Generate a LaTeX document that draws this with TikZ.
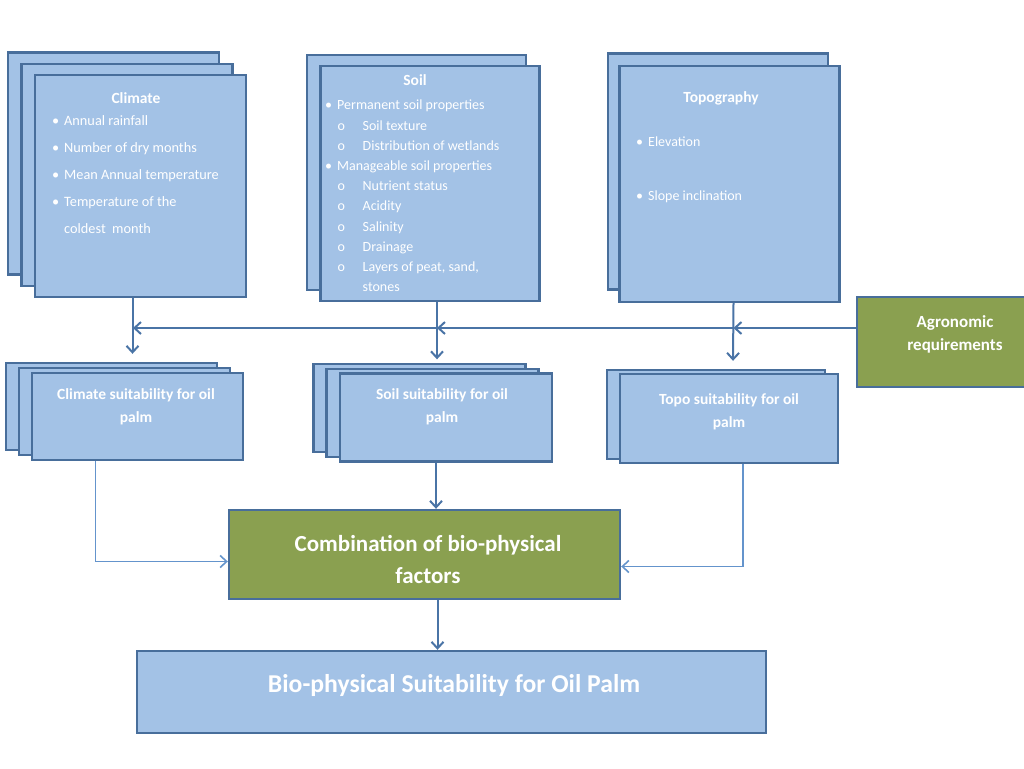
\documentclass[tikz,border=0pt]{standalone}
\usepackage{fontspec}
\setmainfont{Carlito}
\usepackage{tikz}
\usetikzlibrary{
  arrows.meta,
  positioning
}
\definecolor{boxblue}{RGB}{163,194,230}
\definecolor{edgeblue}{RGB}{72,110,155}
\definecolor{leafgreen}{RGB}{138,160,80}
\definecolor{linkblue}{RGB}{74,116,166}
\definecolor{feedblue}{RGB}{100,148,204}
\newcommand{\itm}{\makebox[12pt][l]{\textbullet}}
\newcommand{\subitm}{\hspace*{12.5pt}\makebox[25pt][l]{o}}

\begin{document}
\begin{tikzpicture}[x=1pt, y=-1pt,
  card/.style={draw=edgeblue, fill=boxblue, line width=2.4pt, inner sep=0pt},
  goal/.style={draw=edgeblue, fill=leafgreen, line width=2.4pt, inner sep=0pt},
  head/.style={text=white, font=\fontsize{15.5}{23}\selectfont\bfseries, align=center},
  list/.style={text=white, anchor=north west, inner sep=0pt, align=left},
  flow/.style={-{Straight Barb[length=6.5pt,width=12pt]}, line width=2pt, linkblue},
  feed/.style={-{Straight Barb[length=6.5pt,width=12pt]}, line width=1.6pt, feedblue}
]
\useasboundingbox (0,0) rectangle (1024,768);
\clip (0,0) rectangle (1024,768);
\fill[white] (0,0) rectangle (1024,768);

%% Top row: input factors
\node[card, minimum width=211pt, minimum height=222pt] (clim3) at (113.5,163.5) {};
\node[card, minimum width=211pt, minimum height=222pt] (clim2) at (127.0,175.0) {};
\node[card, minimum width=211pt, minimum height=222pt] (clim)  at (140.5,186.0) {};
\node[card, minimum width=219pt, minimum height=235pt] (soil2) at (416.5,172.5) {};
\node[card, minimum width=219pt, minimum height=235pt] (soil)  at (430.0,183.5) {};
\node[card, minimum width=220pt, minimum height=236pt] (topo2) at (718.0,171.5) {};
\node[card, minimum width=220pt, minimum height=236pt] (topo)  at (729.5,184.0) {};

%% Middle row: suitability maps
\node[card, minimum width=211pt, minimum height=87pt] (csuit3) at (111.5,406.5) {};
\node[card, minimum width=211pt, minimum height=87pt] (csuit2) at (124.5,411.5) {};
\node[card, minimum width=211pt, minimum height=87pt] (csuit)  at (137.5,416.5) {};
\node[card, minimum width=212pt, minimum height=88pt] (ssuit3) at (419.5,408.0) {};
\node[card, minimum width=212pt, minimum height=88pt] (ssuit2) at (432.5,413.0) {};
\node[card, minimum width=212pt, minimum height=88pt] (ssuit)  at (446.0,417.5) {};
\node[card, minimum width=218pt, minimum height=89pt] (tsuit2) at (716.0,414.5) {};
\node[card, minimum width=218pt, minimum height=89pt] (tsuit)  at (729.0,418.5) {};
\node[goal, minimum width=196pt, minimum height=90pt] (agro)   at (955.0,342.0) {};

%% Bottom: combination and result
\node[goal, minimum width=391pt, minimum height=89pt] (comb)  at (424.5,554.5) {};
\node[card, minimum width=629pt, minimum height=82pt] (final) at (451.5,692.0) {};

%% Box texts
\node[head, anchor=base] (climT) at (136,103) {Climate};
\node[list, font=\fontsize{14.3}{27}\selectfont] (climL) at (52,115)
  {\itm Annual rainfall\\ \itm Number of dry months\\ \itm Mean Annual temperature\\
   \itm Temperature of the\\ \hspace*{12pt}coldest~ month};
\node[head, anchor=base] (soilT) at (415,85.5) {Soil};
\node[list, font=\fontsize{14}{20.2}\selectfont] (soilL) at (325,100)
  {\itm Permanent soil properties\\ \subitm Soil texture\\ \subitm Distribution of wetlands\\
   \itm Manageable soil properties\\ \subitm Nutrient status\\ \subitm Acidity\\
   \subitm Salinity\\ \subitm Drainage\\ \subitm Layers of peat, sand,\\
   \hspace*{37.5pt}stones};
\node[head, anchor=base] (topoT) at (721,102) {Topography};
\node[list, font=\fontsize{14}{54}\selectfont] (topoL) at (636,137)
  {\itm Elevation\\ \itm Slope inclination};
\node[head] (csuitT) at (136,406.5) {Climate suitability for oil\\palm};
\node[head] (ssuitT) at (442,406.5) {Soil suitability for oil\\palm};
\node[head] (tsuitT) at (729,412) {Topo suitability for oil\\palm};
\node[head, font=\fontsize{17}{23}\selectfont\bfseries] (agroT) at (955,334.5) {Agronomic\\requirements};
\node[head, font=\fontsize{23}{32}\selectfont\bfseries] (combT) at (428,559) {Combination of bio-physical\\factors};
\node[head, anchor=base, font=\fontsize{25.7}{30}\selectfont\bfseries] (finalT) at (454,692) {Bio-physical Suitability for Oil Palm};

%% Factor arrows
\draw[flow] ([xshift=-8]clim.south) -- ([xshift=-5,yshift=18]csuit.north);
\draw[flow] ([xshift=7]soil.south)  -- ([xshift=-9,yshift=13]ssuit.north);
\draw[flow] ([xshift=4]topo.south)  -- ([xshift=4,yshift=12]tsuit.north);

%% Agronomic requirements feed
\coordinate (agroL) at (133,328);
\draw[flow] (agro.west |- agroL) -- ([xshift=4]topo.south |- agroL);
\draw[flow] ([xshift=4]topo.south |- agroL) -- ([xshift=7]soil.south |- agroL);
\draw[flow] ([xshift=7]soil.south |- agroL) -- (agroL);

%% Suitability to combination
\draw[feed] ([xshift=-42]csuit.south) |- ([yshift=-7]comb.west);
\draw[flow] ([xshift=-10]ssuit.south) -- ([xshift=-10]ssuit.south |- comb.north);
\draw[feed] ([xshift=14]tsuit.south) |- ([yshift=-12]comb.east);

%% Result
\draw[flow] ([xshift=13]comb.south) -- ([xshift=13]comb.south |- final.north);
\end{tikzpicture}
\end{document}
